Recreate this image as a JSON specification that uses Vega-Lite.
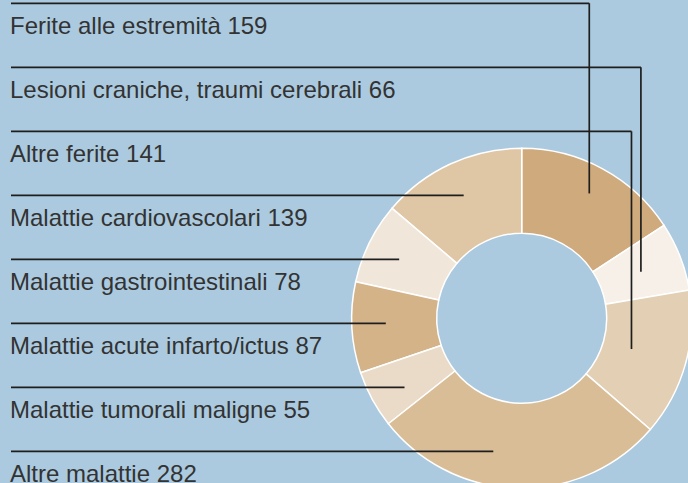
{
  "$schema": "https://vega.github.io/schema/vega-lite/v6.json",
  "width": 688,
  "height": 483,
  "padding": 0,
  "autosize": {"type": "none"},
  "background": "#abcadf",
  "config": {"view": {"stroke": null}},
  "data": {
    "values": [
      {"label": "Ferite alle estremità", "value": 159, "rank": 0, "slice": 0},
      {"label": "Lesioni craniche, traumi cerebrali", "value": 66, "rank": 1, "slice": 1},
      {"label": "Altre ferite", "value": 141, "rank": 2, "slice": 2},
      {"label": "Malattie cardiovascolari", "value": 139, "rank": 3, "slice": 7},
      {"label": "Malattie gastrointestinali", "value": 78, "rank": 4, "slice": 6},
      {"label": "Malattie acute infarto/ictus", "value": 87, "rank": 5, "slice": 5},
      {"label": "Malattie tumorali maligne", "value": 55, "rank": 6, "slice": 4},
      {"label": "Altre malattie", "value": 282, "rank": 7, "slice": 3}
    ]
  },
  "transform": [
    {"window": [{"op": "sum", "field": "value", "as": "cum"}], "sort": [{"field": "slice", "order": "ascending"}], "frame": [null, 0]},
    {"joinaggregate": [{"op": "sum", "field": "value", "as": "total"}]},
    {"calculate": "(datum.cum - datum.value) / datum.total", "as": "s0"},
    {"calculate": "datum.cum / datum.total", "as": "s1"},
    {"calculate": "2 * PI * (datum.cum - datum.value / 2) / datum.total", "as": "mid"},
    {"calculate": "3.3 + 64 * datum.rank", "as": "lineY"},
    {"calculate": "sin(datum.mid) > 0 ? 521.7 + (142 - 14 * datum.rank) * sin(datum.mid) : 521.7 - sqrt(136 * 136 - pow(datum.lineY - 318.3, 2))", "as": "ex"},
    {"calculate": "sin(datum.mid) > 0 ? 318.3 - (142 - 14 * datum.rank) * cos(datum.mid) : datum.lineY", "as": "ey"},
    {"calculate": "datum.label + ' ' + datum.value", "as": "txt"},
    {"calculate": "521.7", "as": "cx"},
    {"calculate": "318.3", "as": "cy"}
  ],
  "layer": [
    {
      "mark": {"type": "arc", "innerRadius": 85, "outerRadius": 170, "stroke": "#ffffff", "strokeWidth": 1.5},
      "encoding": {
        "theta": {"field": "s0", "type": "quantitative", "stack": null, "scale": {"domain": [0, 1], "range": [0, 6.283185307179586]}},
        "theta2": {"field": "s1"},
        "color": {
          "field": "label",
          "type": "nominal",
          "legend": null,
          "scale": {
            "domain": ["Ferite alle estremità", "Lesioni craniche, traumi cerebrali", "Altre ferite", "Malattie cardiovascolari", "Malattie gastrointestinali", "Malattie acute infarto/ictus", "Malattie tumorali maligne", "Altre malattie"],
            "range": ["#cfaa7c", "#f6f0e9", "#e3cfb3", "#dfc6a5", "#f0e6da", "#d4b388", "#eadbc8", "#d9bd97"]
          }
        },
        "x": {"field": "cx", "type": "quantitative", "scale": {"domain": [0, 688], "nice": false, "zero": false}, "axis": null},
        "y": {"field": "cy", "type": "quantitative", "scale": {"domain": [0, 483], "nice": false, "zero": false, "reverse": true}, "axis": null}
      }
    },
    {
      "mark": {"type": "rule", "color": "#1e1e1e", "strokeWidth": 1.7},
      "encoding": {
        "x": {"field": "ex", "type": "quantitative"},
        "x2": {"datum": 11},
        "y": {"field": "lineY", "type": "quantitative"}
      }
    },
    {
      "mark": {"type": "rule", "color": "#1e1e1e", "strokeWidth": 1.7},
      "encoding": {
        "x": {"field": "ex", "type": "quantitative"},
        "y": {"field": "lineY", "type": "quantitative"},
        "y2": {"field": "ey"}
      }
    },
    {
      "mark": {"type": "text", "align": "left", "baseline": "alphabetic", "dy": 31, "fontSize": 24, "font": "Liberation Sans", "color": "#333333"},
      "encoding": {
        "x": {"datum": 10, "type": "quantitative"},
        "y": {"field": "lineY", "type": "quantitative"},
        "text": {"field": "txt", "type": "nominal"}
      }
    }
  ]
}
